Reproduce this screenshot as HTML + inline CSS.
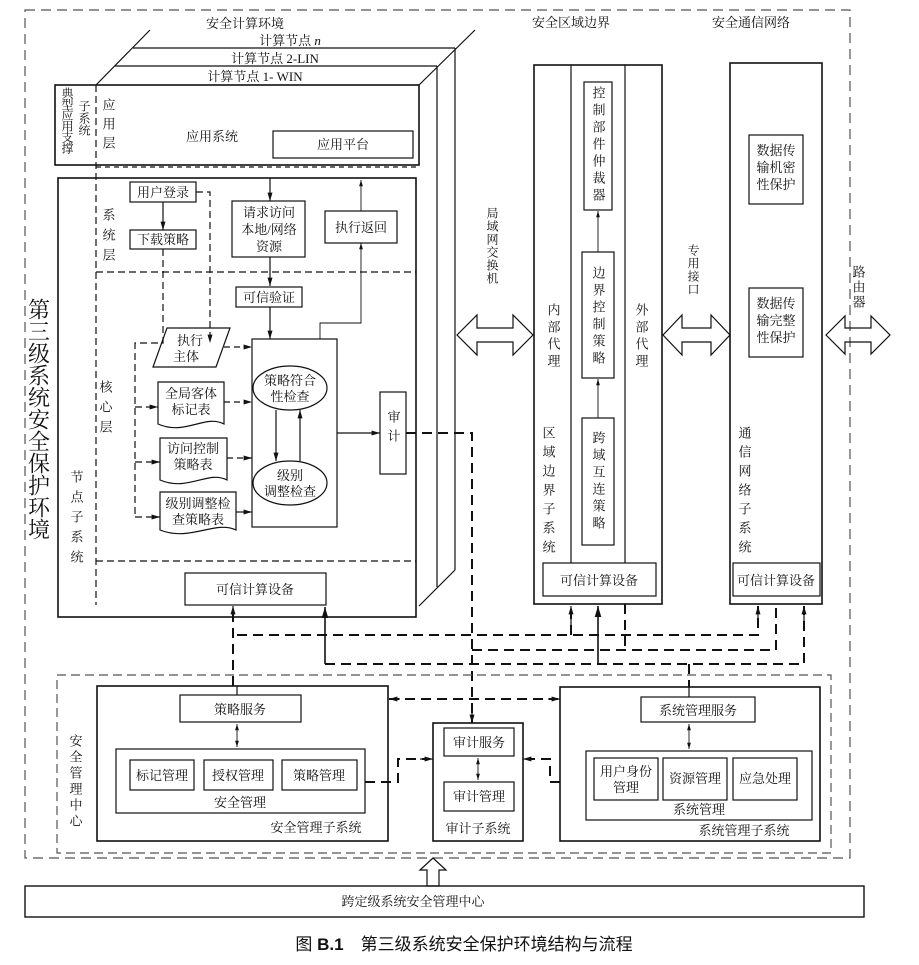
<!DOCTYPE html>
<html><head><meta charset="utf-8">
<style>
html,body{margin:0;padding:0;background:#fff;}
svg{display:block;}
text{font-family:"Liberation Serif","Noto Serif CJK SC","Noto Sans CJK SC",serif;font-size:13px;fill:#111;}
.v{writing-mode:vertical-rl;}
</style></head>
<body>
<svg width="919" height="965" viewBox="0 0 919 965" xmlns="http://www.w3.org/2000/svg">
<defs>
<marker id="a" viewBox="0 0 10 10" refX="10" refY="5" markerWidth="7" markerHeight="7" orient="auto-start-reverse"><path d="M0,2 L10,5 L0,8 z" fill="#111"/></marker>
</defs>
<g fill="none" stroke="#111" stroke-width="1.2">
<rect x="25" y="10" width="825" height="848" stroke="#555" stroke-dasharray="10,6"/>
<line x1="133" y1="48" x2="455" y2="48"/>
<line x1="115" y1="66" x2="437" y2="66"/>
<line x1="96" y1="85" x2="150" y2="30"/>
<line x1="419" y1="85" x2="475" y2="30"/>
<line x1="437" y1="66" x2="437" y2="587"/>
<line x1="455" y1="48" x2="455" y2="570"/>
<line x1="419" y1="606" x2="455" y2="570"/>
<rect x="55" y="85" width="364" height="80" stroke-width="1.6"/>
<line x1="96" y1="167" x2="419" y2="167" stroke-dasharray="5,4"/>
<rect x="273" y="131" width="140" height="27"/>
<rect x="58" y="178" width="358" height="439" stroke-width="1.6"/>
<line x1="96" y1="85" x2="96" y2="605" stroke-dasharray="7,4"/>
<line x1="96" y1="272" x2="416" y2="272" stroke-dasharray="7,4"/>
<line x1="96" y1="561" x2="416" y2="561" stroke-dasharray="7,4"/>
<rect x="130" y="182" width="66" height="20"/>
<rect x="130" y="230" width="66" height="19"/>
<line x1="163" y1="202" x2="163" y2="230" marker-end="url(#a)"/>
<path d="M196,192 H210 V343" stroke-dasharray="7,4" marker-end="url(#a)"/>
<path d="M163,249 V343 H135 V517" stroke-dasharray="7,4"/>
<line x1="135" y1="407" x2="158" y2="407" stroke-dasharray="7,4" marker-end="url(#a)"/>
<line x1="135" y1="462" x2="160" y2="462" stroke-dasharray="7,4" marker-end="url(#a)"/>
<line x1="135" y1="517" x2="160" y2="517" stroke-dasharray="7,4" marker-end="url(#a)"/>
<rect x="232" y="201" width="73" height="56"/>
<line x1="270" y1="178" x2="270" y2="201" marker-end="url(#a)"/>
<line x1="270" y1="257" x2="270" y2="286" marker-end="url(#a)"/>
<rect x="236" y="287" width="66" height="20"/>
<line x1="270" y1="307" x2="270" y2="339" marker-end="url(#a)"/>
<rect x="325" y="211" width="72" height="32"/>
<path d="M320,339 V323 H361 V243" marker-end="url(#a)" stroke-width="0.9"/>
<line x1="361" y1="211" x2="361" y2="180" marker-end="url(#a)" stroke-width="0.9"/>
<rect x="252" y="339" width="85" height="188"/>
<ellipse cx="290" cy="388" rx="37" ry="22"/>
<ellipse cx="290" cy="483" rx="37" ry="22"/>
<line x1="276" y1="410" x2="276" y2="461" marker-end="url(#a)"/>
<line x1="300" y1="461" x2="300" y2="410" marker-end="url(#a)"/>
<rect x="380" y="392" width="26" height="82"/>
<line x1="337" y1="433" x2="380" y2="433" marker-end="url(#a)"/>
<path d="M167,328 H230 L216,367 H153 Z"/>
<line x1="224" y1="347" x2="252" y2="347" stroke-dasharray="6,4" marker-end="url(#a)"/>
<path d="M158,382 H224 V424 C205,414 185,436 158,424 Z"/>
<path d="M160,438 H227 V480 C208,470 188,492 160,480 Z"/>
<path d="M160,492 H236 V530 C215,520 190,542 160,530 Z"/>
<line x1="224" y1="402" x2="252" y2="402" stroke-dasharray="6,4" marker-end="url(#a)"/>
<line x1="227" y1="458" x2="252" y2="458" stroke-dasharray="6,4" marker-end="url(#a)"/>
<line x1="236" y1="512" x2="252" y2="512" marker-end="url(#a)"/>
<rect x="185" y="573" width="141" height="32"/>
<g stroke-width="2" stroke-dasharray="10,6">
<line x1="233" y1="686" x2="233" y2="607"/>
<path d="M406,433 H472 V723"/>
<path d="M237,635 H758 V606"/>
<path d="M472,650 H776 V604"/>
<path d="M325,664 H804 V606"/>
<line x1="571" y1="635" x2="571" y2="606"/>
<line x1="625" y1="604" x2="625" y2="650"/>
<line x1="689" y1="664" x2="689" y2="687"/>
<path d="M389,699 H558"/>
<path d="M365,782 H398 V759 H430"/>
<path d="M560,782 H550 V759 H526"/>
</g>
<line x1="325" y1="664" x2="325" y2="607" stroke-width="1.6" marker-end="url(#a)"/>
<line x1="233" y1="620" x2="233" y2="606" marker-end="url(#a)"/>
<line x1="598" y1="664" x2="598" y2="606" stroke-width="1.6" marker-end="url(#a)"/>
<line x1="571" y1="625" x2="571" y2="606" marker-end="url(#a)"/>
<line x1="758" y1="625" x2="758" y2="606" marker-end="url(#a)"/>
<line x1="804" y1="625" x2="804" y2="606" marker-end="url(#a)"/>
<line x1="472" y1="710" x2="472" y2="723" marker-end="url(#a)"/>
<line x1="400" y1="699" x2="389" y2="699" marker-end="url(#a)"/>
<line x1="548" y1="699" x2="560" y2="699" marker-end="url(#a)"/>
<line x1="420" y1="759" x2="433" y2="759" marker-end="url(#a)"/>
<line x1="535" y1="759" x2="523" y2="759" marker-end="url(#a)"/>
<rect x="534" y="65" width="128" height="539" stroke-width="1.6"/>
<line x1="571" y1="65" x2="571" y2="563"/>
<line x1="625" y1="65" x2="625" y2="563"/>
<rect x="543" y="563" width="113" height="33"/>
<rect x="584" y="82" width="28" height="128"/>
<rect x="582" y="252" width="32" height="126"/>
<rect x="582" y="418" width="32" height="127"/>
<line x1="598" y1="252" x2="598" y2="211" marker-end="url(#a)" stroke-width="0.9"/>
<line x1="598" y1="418" x2="598" y2="379" marker-end="url(#a)" stroke-width="0.9"/>
<rect x="730" y="63" width="92" height="541" stroke-width="1.6"/>
<rect x="749" y="135" width="54" height="69"/>
<rect x="749" y="288" width="54" height="69"/>
<rect x="733" y="563" width="87" height="33"/>
<path d="M457,335 L477,315 V328 H513 V315 L533,335 L513,355 V342 H477 V355 Z"/>
<path d="M663,335 L682,315 V328 H711 V315 L730,335 L711,355 V342 H682 V355 Z"/>
<path d="M826,335 L845,316 V328 H871 V316 L890,335 L871,354 V342 H845 V354 Z"/>
<rect x="57" y="675" width="774" height="178" stroke="#555" stroke-dasharray="9,5"/>
<rect x="97" y="686" width="291" height="155" stroke-width="1.6"/>
<rect x="180" y="695" width="121" height="27"/>
<line x1="237" y1="686" x2="237" y2="695"/>
<line x1="237" y1="724" x2="237" y2="747" marker-start="url(#a)" marker-end="url(#a)" stroke-width="0.9"/>
<rect x="116" y="749" width="249" height="64"/>
<rect x="130" y="760" width="64" height="30"/>
<rect x="204" y="760" width="69" height="30"/>
<rect x="282" y="760" width="75" height="30"/>
<rect x="433" y="723" width="90" height="118" stroke-width="1.6"/>
<rect x="444" y="728" width="70" height="28"/>
<rect x="444" y="782" width="70" height="29"/>
<line x1="478" y1="758" x2="478" y2="780" marker-start="url(#a)" marker-end="url(#a)" stroke-width="0.9"/>
<rect x="560" y="687" width="260" height="154" stroke-width="1.6"/>
<rect x="641" y="697" width="114" height="25"/>
<line x1="689" y1="687" x2="689" y2="697"/>
<line x1="689" y1="724" x2="689" y2="749" marker-start="url(#a)" marker-end="url(#a)" stroke-width="0.9"/>
<rect x="586" y="751" width="226" height="69"/>
<rect x="594" y="758" width="64" height="42"/>
<rect x="663" y="758" width="64" height="42"/>
<rect x="733" y="758" width="64" height="42"/>
<path d="M433,858 L446,870 H439 V886 H427 V870 H420 Z"/>
<rect x="25" y="886" width="839" height="31" stroke-width="1.4"/>
</g>
<text x="245" y="28" text-anchor="middle">安全计算环境</text>
<text x="290" y="45" text-anchor="middle">计算节点 <tspan font-style="italic">n</tspan></text>
<text x="275" y="63" text-anchor="middle">计算节点 2-LIN</text>
<text x="255" y="81" text-anchor="middle">计算节点 1- WIN</text>
<text class="v" x="67" y="87" style="font-size:12px;letter-spacing:-1px">典型应用支撑</text>
<text class="v" x="84" y="100" style="font-size:12px">子系统</text>
<text class="v" x="108" y="98" style="letter-spacing:6px">应用层</text>
<text x="212" y="141" text-anchor="middle">应用系统</text>
<text x="343" y="149" text-anchor="middle">应用平台</text>
<text x="163" y="197" text-anchor="middle">用户登录</text>
<text x="163" y="244" text-anchor="middle">下载策略</text>
<text class="v" x="108" y="208" style="letter-spacing:7px">系统层</text>
<text class="v" x="105" y="380" style="letter-spacing:7px">核心层</text>
<text class="v" x="76" y="470" style="letter-spacing:7px">节点子系统</text>
<text x="269" y="217" text-anchor="middle">请求访问</text>
<text x="269" y="234" text-anchor="middle">本地/网络</text>
<text x="269" y="251" text-anchor="middle">资源</text>
<text x="269" y="302" text-anchor="middle">可信验证</text>
<text x="361" y="232" text-anchor="middle">执行返回</text>
<text x="190" y="345" text-anchor="middle">执行</text>
<text x="186" y="361" text-anchor="middle">主体</text>
<text x="290" y="385" text-anchor="middle">策略符合</text>
<text x="290" y="401" text-anchor="middle">性检查</text>
<text x="290" y="480" text-anchor="middle">级别</text>
<text x="290" y="496" text-anchor="middle">调整检查</text>
<text class="v" x="393" y="410" style="letter-spacing:6px">审计</text>
<text x="191" y="398" text-anchor="middle">全局客体</text>
<text x="191" y="414" text-anchor="middle">标记表</text>
<text x="193" y="453" text-anchor="middle">访问控制</text>
<text x="193" y="469" text-anchor="middle">策略表</text>
<text x="198" y="508" text-anchor="middle">级别调整检</text>
<text x="198" y="524" text-anchor="middle">查策略表</text>
<text x="255" y="594" text-anchor="middle">可信计算设备</text>
<text class="v" x="38" y="298" style="font-size:22px;letter-spacing:0px">第三级系统安全保护环境</text>
<text x="571" y="27" text-anchor="middle">安全区域边界</text>
<text x="751" y="27" text-anchor="middle">安全通信网络</text>
<text class="v" x="492" y="207" style="font-size:12px;letter-spacing:1px">局域网交换机</text>
<text class="v" x="693" y="244" style="font-size:12px;letter-spacing:1px">专用接口</text>
<text class="v" x="858" y="265" style="letter-spacing:2px">路由器</text>
<text class="v" x="598" y="86" style="letter-spacing:4px">控制部件仲裁器</text>
<text class="v" x="598" y="266" style="letter-spacing:4px">边界控制策略</text>
<text class="v" x="598" y="431" style="letter-spacing:4px">跨域互连策略</text>
<text class="v" x="553" y="303" style="letter-spacing:4px">内部代理</text>
<text class="v" x="641" y="303" style="letter-spacing:4px">外部代理</text>
<text class="v" x="548" y="426" style="letter-spacing:6px">区域边界子系统</text>
<text x="599" y="585" text-anchor="middle">可信计算设备</text>
<text x="776" y="155" text-anchor="middle">数据传</text>
<text x="776" y="172" text-anchor="middle">输机密</text>
<text x="776" y="189" text-anchor="middle">性保护</text>
<text x="776" y="308" text-anchor="middle">数据传</text>
<text x="776" y="325" text-anchor="middle">输完整</text>
<text x="776" y="342" text-anchor="middle">性保护</text>
<text class="v" x="744" y="426" style="letter-spacing:6px">通信网络子系统</text>
<text x="776" y="585" text-anchor="middle">可信计算设备</text>
<text class="v" x="75" y="734" style="letter-spacing:3px">安全管理中心</text>
<text x="240" y="714" text-anchor="middle">策略服务</text>
<text x="162" y="780" text-anchor="middle">标记管理</text>
<text x="238" y="780" text-anchor="middle">授权管理</text>
<text x="319" y="780" text-anchor="middle">策略管理</text>
<text x="240" y="807" text-anchor="middle">安全管理</text>
<text x="316" y="832" text-anchor="middle">安全管理子系统</text>
<text x="479" y="747" text-anchor="middle">审计服务</text>
<text x="479" y="801" text-anchor="middle">审计管理</text>
<text x="478" y="833" text-anchor="middle">审计子系统</text>
<text x="698" y="715" text-anchor="middle">系统管理服务</text>
<text x="626" y="776" text-anchor="middle">用户身份</text>
<text x="626" y="792" text-anchor="middle">管理</text>
<text x="695" y="783" text-anchor="middle">资源管理</text>
<text x="765" y="783" text-anchor="middle">应急处理</text>
<text x="699" y="814" text-anchor="middle">系统管理</text>
<text x="744" y="835" text-anchor="middle">系统管理子系统</text>
<text x="413" y="906" text-anchor="middle">跨定级系统安全管理中心</text>
<text x="464" y="950" text-anchor="middle" style="font-size:17px;font-family:'Liberation Sans','Noto Sans CJK SC',sans-serif">图 <tspan font-weight="bold">B.1</tspan>　第三级系统安全保护环境结构与流程</text>
</svg>
</body></html>
